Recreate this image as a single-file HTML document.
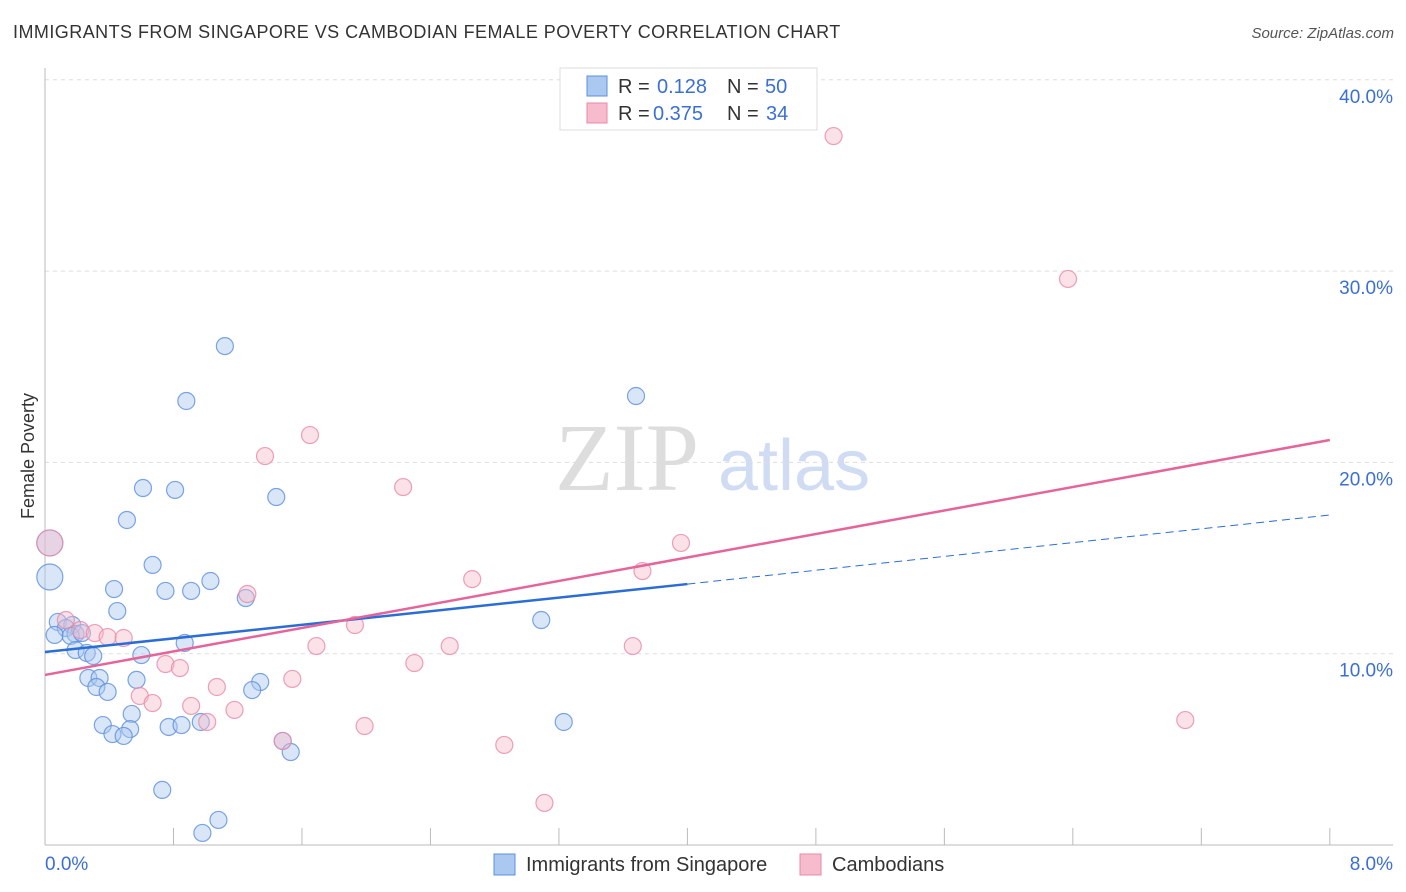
<!DOCTYPE html>
<html><head><meta charset="utf-8"><style>
body{margin:0;background:#fff;font-family:"Liberation Sans",sans-serif;}
#wrap{position:relative;width:1406px;height:892px;}
.t{position:absolute;white-space:nowrap;}
</style></head><body>
<div id="wrap">
<div class="t" style="left:13px;top:22px;font-size:18px;color:#333;letter-spacing:0.45px;">IMMIGRANTS FROM SINGAPORE VS CAMBODIAN FEMALE POVERTY CORRELATION CHART</div>
<div class="t" style="right:12px;top:25px;font-size:15px;color:#555;font-style:italic;">Source: ZipAtlas.com</div>
<svg id="svg" width="1406" height="892" style="position:absolute;left:0;top:0"></svg>
</div>
<script>
const yTicks=[10,20,30,40];
const yTickLabels=["10.0%","20.0%","30.0%","40.0%"];
const xTickLabels=["0.0%","8.0%"];
const blueX=[1.12,0.88,3.68,0.61,0.81,1.44,0.51,0.67,0.43,0.75,0.91,1.03,1.25,0.45,3.09,0.08,0.17,0.13,0.19,0.06,0.16,0.23,0.87,0.19,0.26,0.30,0.60,0.27,0.34,0.32,0.57,0.39,1.34,1.29,0.54,0.36,0.77,0.85,0.97,0.53,0.42,0.49,3.23,1.48,1.53,0.73,1.08,0.98,0.03,0.03];
const blueY=[26.08,23.21,23.47,18.66,18.56,18.19,16.99,14.64,13.38,13.28,13.28,13.80,12.91,12.23,11.76,11.66,11.50,11.34,11.03,10.98,10.93,11.08,10.56,10.19,10.04,9.88,9.93,8.73,8.73,8.26,8.63,8.00,8.52,8.10,6.85,6.27,6.17,6.27,6.43,6.06,5.80,5.70,6.43,5.44,4.86,2.88,1.31,0.63,14.01,15.79];
const blueBig=[48,49];
const pinkX=[4.91,6.37,1.65,1.37,2.23,2.66,3.96,3.72,1.26,0.13,0.22,0.31,0.39,0.49,1.93,1.69,2.52,3.66,0.75,0.84,2.30,1.54,1.07,0.59,0.67,0.91,1.01,1.18,1.99,1.48,2.86,3.11,7.10,0.03];
const pinkY=[37.06,29.59,21.43,20.33,18.71,13.90,15.79,14.32,13.12,11.76,11.24,11.08,10.87,10.82,11.50,10.40,10.40,10.40,9.46,9.25,9.51,8.68,8.26,7.79,7.42,7.27,6.43,7.06,6.22,5.44,5.23,2.20,6.53,15.79];
const pinkBig=[33];
const blueTrend=[[0,10.09],[4.0,13.64],[8,17.25]];
const pinkTrend=[[0,8.89],[8,21.17]];
const xTickVals=[0.8,1.6,2.4,3.2,4.0,4.8,5.6,6.4,7.2,8.0];
const X=v=>45+v*160.6, Y=v=>845-v*19.13;
const NS="http://www.w3.org/2000/svg", svg=document.getElementById('svg');
function mk(tag,attrs){const e=document.createElementNS(NS,tag);for(const k in attrs)e.setAttribute(k,attrs[k]);svg.appendChild(e);return e;}
let wm=mk('text',{x:555,y:490,'font-size':96,fill:'#ddd','font-family':'Liberation Serif'});wm.textContent='ZIP';


let wm2=mk('text',{x:718,y:490,'font-size':72,fill:'#cfdcf3','font-family':'Liberation Sans'});wm2.textContent='atlas';


yTicks.forEach((t,i)=>{
 let g=mk('line',{x1:45,x2:1393,y1:Y(t),y2:Y(t),stroke:'#ddd','stroke-dasharray':'4,4'});
 
 
 let l=mk('text',{x:1393,y:Y(t)+23,'text-anchor':'end','font-size':19,fill:'#3b6fd4'});l.textContent=yTickLabels[i];
 
 
});
let ax=mk('line',{x1:45,x2:45,y1:68,y2:845,stroke:'#bbb'});


let bx=mk('line',{x1:45,x2:1393,y1:845,y2:845,stroke:'#bbb'});


xTickVals.forEach(v=>{let tk=mk('line',{x1:X(v),x2:X(v),y1:828,y2:845,stroke:'#bbb'});
 
 });
let xl0=mk('text',{x:45,y:870,'font-size':19,fill:'#3b6fd4'});xl0.textContent=xTickLabels[0];


let xl1=mk('text',{x:1393,y:870,'font-size':19,'text-anchor':'end',fill:'#3b6fd4'});xl1.textContent=xTickLabels[1];


let yt=mk('text',{x:34,y:456,'font-size':18,fill:'#333','text-anchor':'middle',transform:'rotate(-90 34 456)'});yt.textContent='Female Poverty';


function pts(xs,ys,big,fill,stroke,name){xs.forEach((x,i)=>{
 let c=mk('circle',{cx:X(x),cy:Y(ys[i]),r:big.includes(i)?13:8.5,fill:fill,'fill-opacity':0.45,stroke:stroke,'stroke-opacity':0.8,'stroke-width':1.2});
 
 });}
pts(blueX,blueY,blueBig,'#aac8f0','#5b8fdc','singapore-point');
pts(pinkX,pinkY,pinkBig,'#f6bccd','#e88aa8','cambodian-point');
let b1=mk('line',{x1:X(blueTrend[0][0]),y1:Y(blueTrend[0][1]),x2:X(blueTrend[1][0]),y2:Y(blueTrend[1][1]),stroke:'#2a6dd6','stroke-width':2.5});


let b2=mk('line',{x1:X(blueTrend[1][0]),y1:Y(blueTrend[1][1]),x2:X(blueTrend[2][0]),y2:Y(blueTrend[2][1]),stroke:'#2a6dd6','stroke-width':1,'stroke-dasharray':'8,5'});


let p1=mk('line',{x1:X(pinkTrend[0][0]),y1:Y(pinkTrend[0][1]),x2:X(pinkTrend[1][0]),y2:Y(pinkTrend[1][1]),stroke:'#e5649a','stroke-width':2.5});


let lb=mk('rect',{x:560,y:68,width:257,height:62,fill:'#fff',stroke:'#ddd'});


[[0,'#aac8f0','#5b8fdc','0.128','50',657,765],[1,'#f6bccd','#e88aa8','0.375','34',653,766]].forEach(r=>{
 const y=86+r[0]*27;
 let s=mk('rect',{x:587,y:y-10,width:20,height:20,fill:r[1],stroke:r[2]});
 
 
 let t=mk('text',{x:618,y:y+7,'font-size':20,fill:'#333'});t.textContent='R =';
 
 
 let v=mk('text',{x:r[5],y:y+7,'font-size':20,fill:'#3b6fd4'});v.textContent=r[3];
 
 
 let n=mk('text',{x:727,y:y+7,'font-size':20,fill:'#333'});n.textContent='N =';
 
 
 let nv=mk('text',{x:r[6],y:y+7,'font-size':20,fill:'#3b6fd4'});nv.textContent=r[4];
 
 
});
[[494,'#aac8f0','#5b8fdc','Immigrants from Singapore'],[800,'#f6bccd','#e88aa8','Cambodians']].forEach(r=>{
 let s=mk('rect',{x:r[0],y:854,width:21,height:21,fill:r[1],stroke:r[2]});
 
 
 let t=mk('text',{x:r[0]+32,y:871,'font-size':20,fill:'#333'});t.textContent=r[3];
 
 
});
</script>
</body></html>
